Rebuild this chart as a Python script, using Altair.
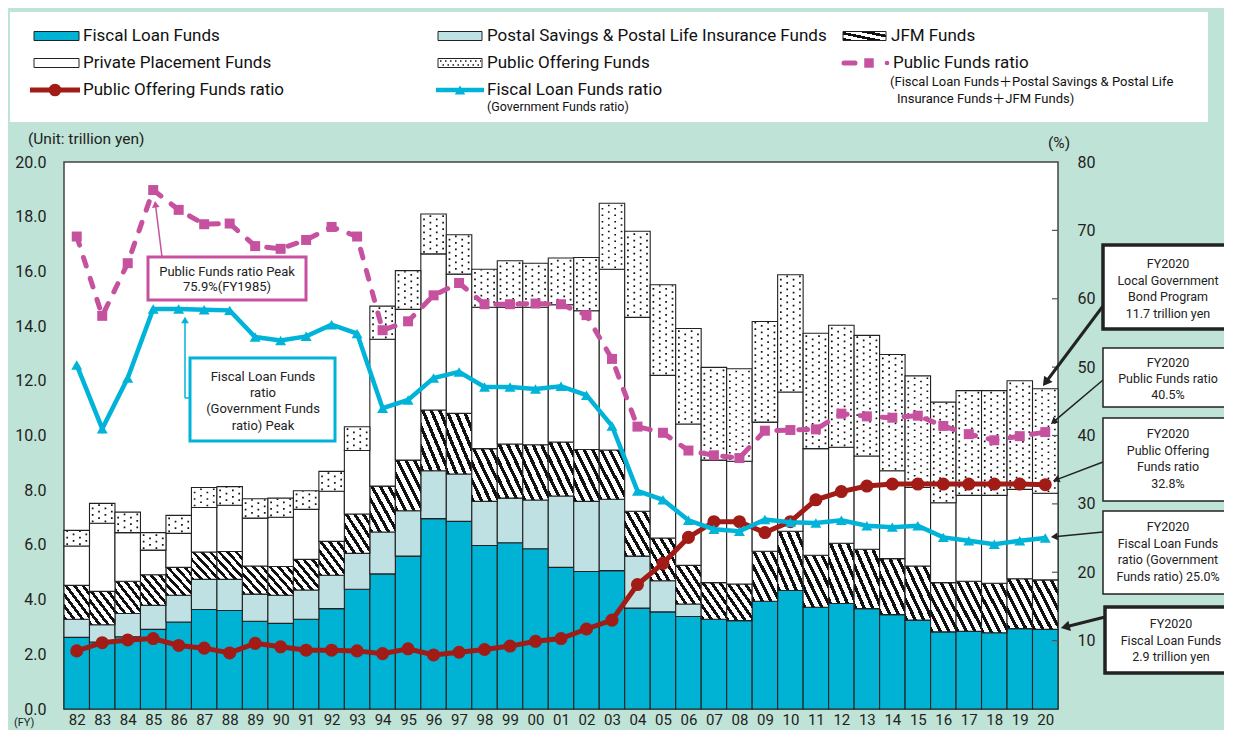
import math
import altair as alt
import pandas as pd

# ---------------- data (trillion yen / %) ----------------
years = ["82", "83", "84", "85", "86", "87", "88", "89", "90", "91",
         "92", "93", "94", "95", "96", "97", "98", "99", "00", "01",
         "02", "03", "04", "05", "06", "07", "08", "09", "10", "11",
         "12", "13", "14", "15", "16", "17", "18", "19", "20"]
fiscal = [2.62, 2.45, 2.64, 2.91, 3.18, 3.64, 3.60, 3.21, 3.13, 3.28,
          3.67, 4.38, 4.94, 5.59, 6.96, 6.86, 5.98, 6.08, 5.86, 5.18,
          5.03, 5.06, 3.69, 3.55, 3.38, 3.28, 3.23, 3.94, 4.33, 3.72,
          3.86, 3.67, 3.45, 3.25, 2.82, 2.84, 2.79, 2.94, 2.91]
postal = [0.66, 0.63, 0.85, 0.88, 0.98, 1.10, 1.14, 0.99, 1.03, 1.07,
          1.22, 1.31, 1.53, 1.66, 1.75, 1.73, 1.61, 1.63, 1.78, 2.61,
          2.56, 2.61, 1.90, 1.14, 0.46, 0, 0, 0, 0, 0,
          0, 0, 0, 0, 0, 0, 0, 0, 0]
jfm = [1.24, 1.22, 1.18, 1.12, 1.02, 1.00, 1.02, 1.03, 1.05, 1.12,
       1.24, 1.44, 1.68, 1.85, 2.22, 2.22, 1.93, 1.98, 2.02, 1.97,
       1.90, 1.80, 1.64, 1.56, 1.41, 1.34, 1.34, 1.83, 2.17, 1.90,
       2.20, 2.17, 2.05, 1.98, 1.80, 1.83, 1.81, 1.82, 1.81]
private = [1.44, 2.49, 1.78, 0.90, 1.24, 1.63, 1.69, 1.75, 1.80, 1.83,
           1.83, 2.32, 5.37, 5.51, 5.71, 5.09, 5.17, 5.00, 5.03, 5.02,
           5.07, 6.61, 7.09, 5.95, 5.17, 4.48, 4.49, 4.72, 5.09, 3.90,
           3.51, 3.41, 3.21, 2.87, 2.92, 3.14, 3.21, 3.27, 3.17]
public_off = [0.57, 0.73, 0.75, 0.64, 0.66, 0.73, 0.68, 0.71, 0.70, 0.68,
              0.73, 0.87, 1.21, 1.42, 1.46, 1.44, 1.39, 1.70, 1.61, 1.71,
              1.95, 2.41, 3.15, 3.31, 3.49, 3.39, 3.38, 3.68, 4.29, 4.22,
              4.46, 4.41, 4.25, 4.08, 3.68, 3.83, 3.83, 3.97, 3.82]
public_ratio = [69.1, 57.5, 65.2, 75.9, 73.0, 70.9, 71.0, 67.7, 67.3, 68.6,
                70.5, 69.1, 55.4, 56.7, 60.5, 62.3, 59.2, 59.2, 59.3, 59.2,
                57.6, 51.2, 41.3, 40.4, 37.8, 37.1, 36.7, 40.7, 40.8, 40.9,
                43.2, 42.8, 42.6, 42.9, 41.4, 40.2, 39.3, 39.9, 40.5]
fiscal_ratio = [50.3, 41.0, 48.4, 58.5, 58.5, 58.4, 58.3, 54.4, 53.9, 54.5,
                56.2, 54.9, 44.0, 45.2, 48.4, 49.3, 47.1, 47.1, 46.8, 47.2,
                45.9, 41.4, 31.9, 30.6, 27.6, 26.3, 26.0, 27.7, 27.3, 27.2,
                27.6, 26.8, 26.6, 26.8, 25.1, 24.6, 24.1, 24.6, 25.0]
po_ratio = [8.5, 9.7, 10.1, 10.3, 9.3, 8.9, 8.2, 9.6, 9.1, 8.6,
            8.6, 8.5, 8.1, 8.8, 7.9, 8.3, 8.7, 9.2, 9.9, 10.3,
            11.7, 13.0, 18.2, 21.3, 25.1, 27.4, 27.4, 25.8, 27.4, 30.6,
            31.8, 32.6, 32.9, 32.9, 32.9, 32.9, 32.9, 32.9, 32.8]
left_ticks = [0, 2, 4, 6, 8, 10, 12, 14, 16, 18, 20]
right_ticks = [10, 20, 30, 40, 50, 60, 70, 80]

# ---------------- styling ----------------
FONT = "Roboto, 'Noto Sans CJK JP', sans-serif"
BG = "#bfe3d6"
C_FISCAL = "#00b2d3"
C_POSTAL = "#bfe1e4"
C_RED = "#a11c16"
C_CYAN = "#00b3d8"
C_MAG = "#c6529f"
EDGE = "#222222"
W, H = 994, 547
n = len(years)
LEG = 17


def stripes(count, frac=0.42):
    stops = []
    for k in range(count):
        a, b, c = k / count, (k + frac) / count, (k + 1) / count
        stops += [alt.GradientStop(color="#111111", offset=a),
                  alt.GradientStop(color="#111111", offset=b),
                  alt.GradientStop(color="#ffffff", offset=b),
                  alt.GradientStop(color="#ffffff", offset=c)]
    return alt.LinearGradient(gradient="linear", stops=stops, x1=0, y1=1, x2=1, y2=0)


# ---------------- derived tables ----------------
series = [("fiscal", fiscal), ("postal", postal), ("jfm", jfm),
          ("private", private), ("public", public_off)]
rows = []
for i in range(n):
    base = 0.0
    for name, arr in series:
        rows.append(dict(idx=i, xl=i - 0.5, xr=i + 0.5, series=name,
                         lo=base, hi=base + arr[i]))
        base += arr[i]
bars = pd.DataFrame(rows)

dots = []
for i in range(n):
    lo = sum(a[i] for _, a in series[:4])
    hi = lo + public_off[i]
    for j, dx in enumerate([-0.375, -0.125, 0.125, 0.375]):
        dots.append(dict(xd=i + dx, lo=lo + 0.04, hi=hi - 0.02, par=j % 2))
dots = pd.DataFrame(dots)

lines = pd.DataFrame(dict(idx=list(range(n)), pub=public_ratio,
                          fis=fiscal_ratio, po=po_ratio))

labels_js = "[" + ",".join("'%s'" % y for y in years) + "][datum.value]"
xscale = alt.Scale(domain=[-0.5, n - 0.5], nice=False, zero=False)
xaxis = alt.Axis(values=list(range(n)), labelExpr=labels_js, ticks=False,
                 domain=False, grid=False, title=None, labelFontSize=15,
                 labelPadding=3, labelFont=FONT, labelColor="#222")
yscale = alt.Scale(domain=[0, 20], nice=False, zero=True)
yaxis = alt.Axis(values=left_ticks, format=".1f", ticks=False, domain=False,
                 grid=False, title=None, labelFontSize=16, labelPadding=18,
                 labelFont=FONT, labelColor="#222", orient="left")
rscale = alt.Scale(domain=[0, 80], nice=False, zero=True)
raxis = alt.Axis(values=right_ticks, ticks=False, domain=False, grid=False,
                 title=None, labelFontSize=16, labelPadding=19,
                 labelFont=FONT, labelColor="#222", orient="right")


def bar_layer(name, fill):
    return alt.Chart(bars).transform_filter(
        (alt.datum.series == name) & (alt.datum.hi > alt.datum.lo + 0.001)
    ).mark_rect(fill=fill, stroke=EDGE, strokeWidth=1.1).encode(
        x=alt.X("xl:Q", scale=xscale, axis=xaxis),
        x2="xr:Q",
        y=alt.Y("lo:Q", scale=yscale, axis=yaxis),
        y2="hi:Q",
    )


def dot_layer(par, offset):
    return alt.Chart(dots).transform_filter(alt.datum.par == par).mark_rule(
        color="#111", strokeWidth=1.7, strokeDash=[1.7, 4.8],
        strokeDashOffset=offset).encode(
        x=alt.X("xd:Q", scale=xscale, axis=xaxis),
        y=alt.Y("lo:Q", scale=yscale, axis=yaxis),
        y2="hi:Q",
    )


bar_group = alt.layer(
    bar_layer("fiscal", C_FISCAL),
    bar_layer("postal", C_POSTAL),
    bar_layer("jfm", stripes(6)),
    bar_layer("private", "#ffffff"),
    bar_layer("public", "#ffffff"),
    dot_layer(0, 0),
    dot_layer(1, 3.25),
)


def enc(field):
    return dict(x=alt.X("idx:Q", scale=xscale, axis=xaxis),
                y=alt.Y(field + ":Q", scale=rscale, axis=raxis))


base_l = alt.Chart(lines)
rticks = alt.Chart(pd.DataFrame(dict(v=right_ticks[:-1]))).mark_rule(
    color="#555", strokeWidth=1.2).encode(
    x=alt.value(W - 6), x2=alt.value(W),
    y=alt.Y("v:Q", scale=rscale, axis=raxis))
line_group = alt.layer(
    rticks,
    base_l.mark_line(color=C_RED, strokeWidth=5).encode(**enc("po")),
    base_l.mark_point(shape="circle", filled=True, size=170, color=C_RED,
                      opacity=1).encode(**enc("po")),
    base_l.mark_line(color=C_CYAN, strokeWidth=4.5).encode(**enc("fis")),
    base_l.mark_point(shape="triangle-up", filled=True, size=120, color=C_CYAN,
                      opacity=1).encode(**enc("fis")),
    base_l.mark_line(color=C_MAG, strokeWidth=5, strokeDash=[9, 13],
                     strokeCap="round").encode(**enc("pub")),
    base_l.mark_point(shape="square", filled=True, size=100, color=C_MAG,
                      opacity=1).encode(**enc("pub")),
)

# ---------------- annotation helpers (page px -> plot px) ----------------
OX, OY = 64, 162
one = alt.Data(values=[{"k": 1}])


def rect(x1, y1, x2, y2, fill="white", stroke=EDGE, sw=1.5):
    return alt.Chart(one).mark_rect(fill=fill, stroke=stroke, strokeWidth=sw).encode(
        x=alt.value(x1 - OX), x2=alt.value(x2 - OX),
        y=alt.value(y1 - OY), y2=alt.value(y2 - OY))


def text(x, y, s, size=13, align="center", color="#222"):
    return alt.Chart(one).mark_text(text=s, fontSize=size, align=align,
                                    baseline="middle", font=FONT,
                                    color=color).encode(
        x=alt.value(x - OX), y=alt.value(y - OY))


def seg(x1, y1, x2, y2, color, sw, dash=None, cap="butt", off=0):
    kw = dict(color=color, strokeWidth=sw, strokeCap=cap)
    if dash:
        kw["strokeDash"] = dash
        kw["strokeDashOffset"] = off
    return alt.Chart(one).mark_rule(**kw).encode(
        x=alt.value(x1 - OX), x2=alt.value(x2 - OX),
        y=alt.value(y1 - OY), y2=alt.value(y2 - OY))


def pt(x, y, shape, size, color, angle=0):
    return alt.Chart(one).mark_point(shape=shape, size=size, filled=True,
                                     color=color, opacity=1, angle=angle,
                                     strokeWidth=0).encode(
        x=alt.value(x - OX), y=alt.value(y - OY))


def arrow(tail, tip, color, sw, head):
    dx, dy = tip[0] - tail[0], tip[1] - tail[1]
    L = math.hypot(dx, dy)
    ang = (math.degrees(math.atan2(dx, -dy)) + 360) % 360
    r = 0.42 * math.sqrt(head)
    hx, hy = tip[0] - dx / L * r, tip[1] - dy / L * r
    return [seg(tail[0], tail[1], hx, hy, color, sw),
            pt(hx, hy, "triangle-up", head, color, ang)]


ann = []
# legend panel
ann.append(rect(10, 12, 1208, 122, fill="white", stroke="white", sw=0))
R1, R2, R3 = 36, 63, 90
ann += [rect(34, R1 - 4.5, 79, R1 + 4.5, fill=C_FISCAL, stroke=EDGE, sw=1),
        text(83, R1, "Fiscal Loan Funds", LEG, "left", "#111"),
        rect(438, R1 - 4.5, 482, R1 + 4.5, fill=C_POSTAL, stroke=EDGE, sw=1),
        text(487, R1, "Postal Savings & Postal Life Insurance Funds", LEG, "left", "#111"),
        rect(843, R1 - 4.5, 886, R1 + 4.5, fill=stripes(3, 0.45), stroke=EDGE, sw=1),
        text(891, R1, "JFM Funds", LEG, "left", "#111"),
        rect(34, R2 - 4.5, 79, R2 + 4.5, fill="white", stroke=EDGE, sw=1),
        text(83, R2, "Private Placement Funds", LEG, "left", "#111"),
        rect(438, R2 - 4.5, 482, R2 + 4.5, fill="white", stroke=EDGE, sw=1),
        seg(440, R2 - 2, 481, R2 - 2, "#111", 1.5, [1.5, 3.5], "butt", 0),
        seg(440, R2 + 2, 481, R2 + 2, "#111", 1.5, [1.5, 3.5], "butt", 2.5),
        text(487, R2, "Public Offering Funds", LEG, "left", "#111"),
        seg(844, R2, 855, R2, C_MAG, 5, cap="round"),
        pt(869, R2, "square", 90, C_MAG),
        pt(887, R2, "circle", 22, C_MAG),
        text(893, R2, "Public Funds ratio", LEG, "left", "#111"),
        text(890, 82, "(Fiscal Loan Funds\uff0bPostal Savings & Postal Life", 13, "left", "#111"),
        text(897, 99, "Insurance Funds\uff0bJFM Funds)", 13, "left", "#111"),
        seg(30, R3, 80, R3, C_RED, 5),
        pt(55, R3, "circle", 160, C_RED),
        text(83, R3, "Public Offering Funds ratio", LEG, "left", "#111"),
        seg(436, R3, 484, R3, C_CYAN, 4.5),
        pt(460, R3, "triangle-up", 110, C_CYAN),
        text(487, R3, "Fiscal Loan Funds ratio", LEG, "left", "#111"),
        text(487, 107, "(Government Funds ratio)", 12.5, "left", "#111"),
        ]
# unit labels
ann += [text(28, 139, "(Unit: trillion yen)", 15.5, "left", "#222"),
        text(1048, 143, "(%)", 15.5, "left", "#222"),
        text(14, 723, "(FY)", 11, "left", "#222")]
# peak callouts
ann += arrow((162, 257), (155, 201), C_MAG, 1.5, 60)
ann += [rect(148, 257, 306, 300, fill="white", stroke=C_MAG, sw=3),
        text(227, 272, "Public Funds ratio Peak", 13),
        text(227, 287, "75.9%(FY1985)", 13)]
ann += [seg(190, 398, 185, 398, C_CYAN, 1.5),
        seg(185, 398, 185, 322, C_CYAN, 1.5),
        pt(185, 320, "triangle-up", 60, C_CYAN),
        rect(190, 358, 335, 441, fill="white", stroke=C_CYAN, sw=3),
        text(263, 377, "Fiscal Loan Funds", 13),
        text(263, 393, "ratio", 13),
        text(263, 409, "(Government Funds", 13),
        text(263, 426, "ratio) Peak", 13)]
# FY2020 callouts on the right
ann += arrow((1103, 306), (1043, 386), EDGE, 3, 110)
ann += arrow((1103, 380), (1051, 424), EDGE, 1.5, 60)
ann += arrow((1103, 462), (1053, 481), EDGE, 1.5, 60)
ann += arrow((1103, 532), (1051, 537), EDGE, 1.5, 60)
ann += arrow((1105, 617), (1061, 628), EDGE, 3, 110)
BX = 1168
ann += [rect(1103, 245, 1240, 329, sw=3.5),
        text(BX, 264, "FY2020", 12.5), text(BX, 280.5, "Local Government", 12.5),
        text(BX, 297, "Bond Program", 12.5), text(BX, 313.5, "11.7 trillion yen", 12.5),
        rect(1103, 348, 1240, 407, sw=1.5),
        text(BX, 363, "FY2020", 12.5), text(BX, 379, "Public Funds ratio", 12.5),
        text(BX, 395, "40.5%", 12.5),
        rect(1103, 418, 1240, 501, sw=1.5),
        text(BX, 434, "FY2020", 12.5), text(BX, 450.5, "Public Offering", 12.5),
        text(BX, 467, "Funds ratio", 12.5), text(BX, 484, "32.8%", 12.5),
        rect(1103, 511, 1240, 594, sw=1.5),
        text(BX, 527, "FY2020", 12.5), text(BX, 543.5, "Fiscal Loan Funds", 12.5),
        text(BX, 560, "ratio (Government", 12.5), text(BX, 576.5, "Funds ratio) 25.0%", 12.5),
        rect(1105, 607, 1240, 673, sw=3.5),
        text(1171, 624, "FY2020", 12.5), text(1171, 640.5, "Fiscal Loan Funds", 12.5),
        text(1171, 657, "2.9 trillion yen", 12.5)]

chart = alt.layer(bar_group, line_group, *ann).resolve_scale(
    y="independent"
).properties(
    width=W, height=H,
    padding={"left": 56, "top": 154, "right": 166, "bottom": 21},
    autosize=alt.AutoSizeParams(type="none"),
).configure(background=BG).configure_view(
    fill="white", stroke="#444", strokeWidth=1.5)

chart.save("out.html", embed_options={"renderer": "svg", "actions": False})
